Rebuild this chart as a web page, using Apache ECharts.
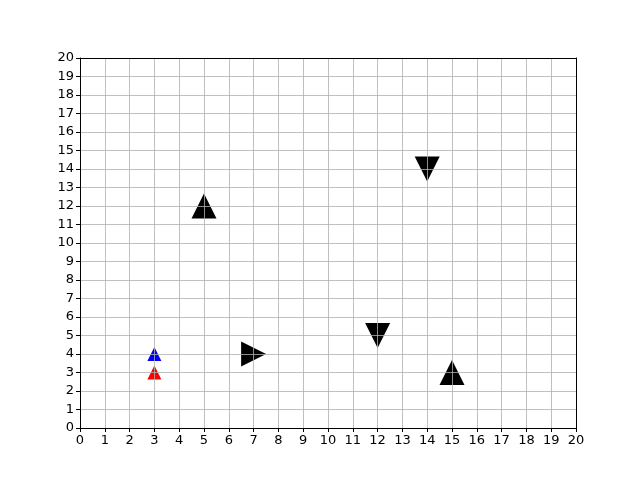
<!DOCTYPE html>
<html><head><meta charset="utf-8">
<script src="https://cdn.jsdelivr.net/npm/echarts@6/dist/echarts.min.js"></script>
<style>html,body{margin:0;padding:0;background:#fff}#c{width:640px;height:480px}</style>
</head><body><div id="c"></div>
<script>
// markers: [x, y]
const blueUp = [[3, 4]];
const redUp = [[3, 3]];
const blackUp = [[5, 12], [15, 3]];
const blackRight = [[7, 4]];
const blackDown = [[14, 14], [12, 5]];
const tickMin = 0, tickMax = 20;

const chart = echarts.init(document.getElementById('c'), null, {renderer: 'canvas'});
const axisCommon = {
  type: 'value', min: tickMin, max: tickMax, interval: 1, z: 5,
  axisLine: {show: true, onZero: false, lineStyle: {color: '#000', width: 1}},
  axisTick: {show: true, inside: false, length: 4, lineStyle: {color: '#000', width: 1}},
  axisLabel: {color: '#000', fontFamily: 'DejaVu Sans', fontSize: 13, margin: 6},
  splitLine: {show: true, lineStyle: {color: '#b0b0b0', width: 0.8}}
};
const frameAxis = {
  type: 'value', min: tickMin, max: tickMax, interval: 1, z: 6,
  axisLine: {show: true, onZero: false, lineStyle: {color: '#000', width: 1}},
  axisTick: {show: false}, axisLabel: {show: false}, splitLine: {show: false}
};
function sc(data, color, size, rot) {
  return {type: 'scatter', data: data, symbol: 'triangle', symbolSize: size, symbolRotate: rot,
    itemStyle: {color: color, opacity: 1}, z: 2, silent: true};
}
chart.setOption({
  animation: false,
  grid: {left: 80, right: 64, top: 58, bottom: 52},
  xAxis: [Object.assign({}, axisCommon, {position: 'bottom'}), Object.assign({}, frameAxis, {position: 'top'})],
  yAxis: [Object.assign({}, axisCommon, {position: 'left'}), Object.assign({}, frameAxis, {position: 'right'})],
  series: [
    sc(blueUp, '#0000ff', [14, 14], 0),
    sc(redUp, '#ff0000', [14, 14], 0),
    sc(blackUp, '#000000', [25, 25], 0),
    sc(blackRight, '#000000', [25, 25], -90),
    sc(blackDown, '#000000', [25, 25], 180)
  ]
});
</script></body></html>
